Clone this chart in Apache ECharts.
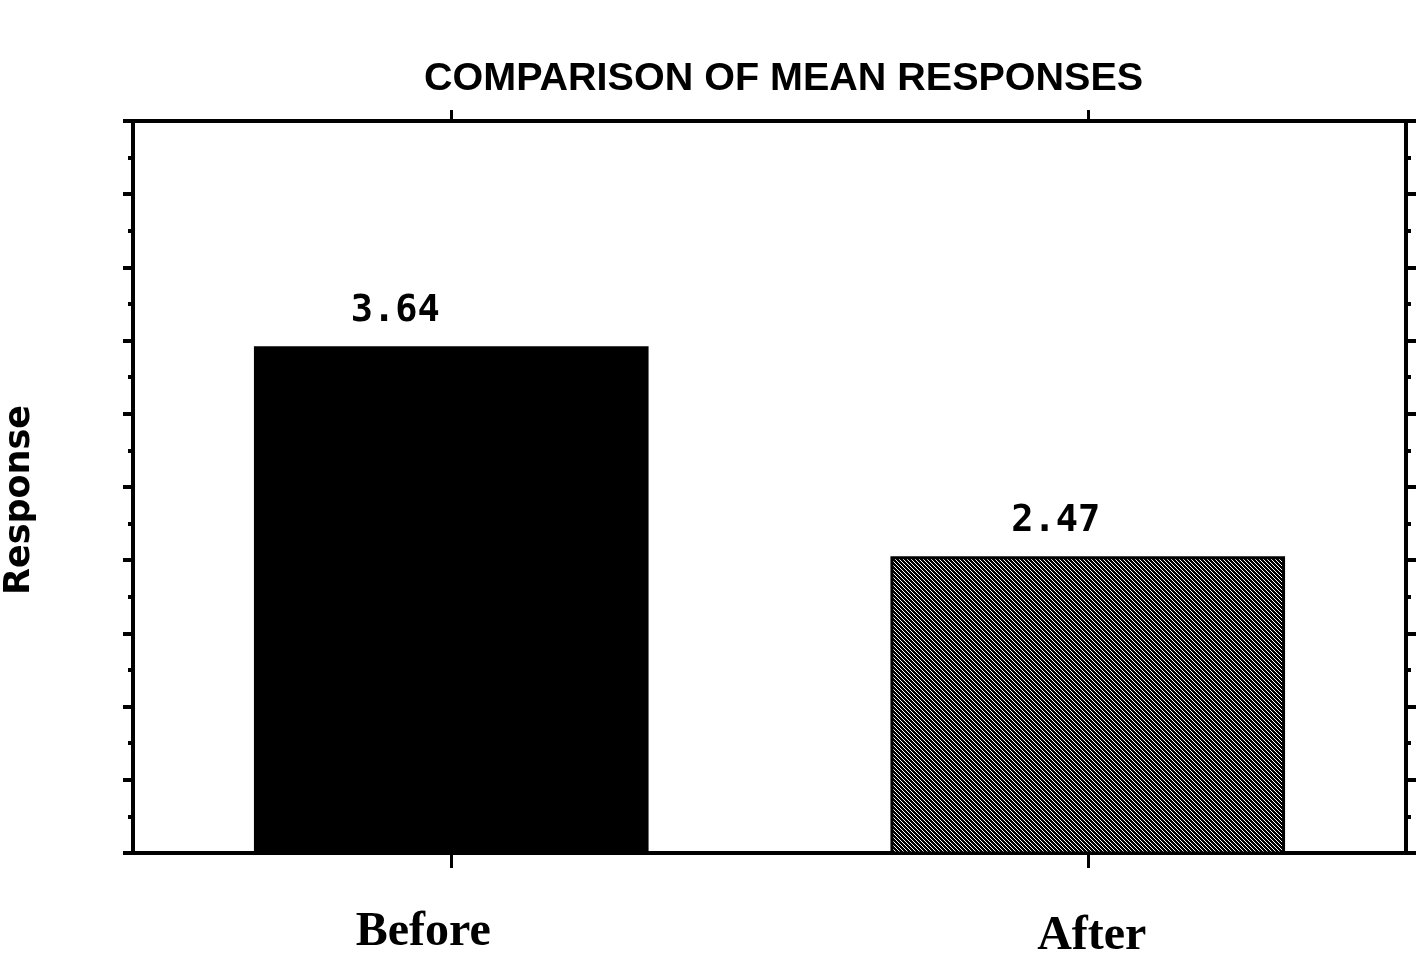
<!DOCTYPE html>
<html>
<head>
<meta charset="utf-8">
<title>Comparison of mean responses</title>
<script src="https://cdn.jsdelivr.net/npm/echarts@6/dist/echarts.min.js"></script>
<style>
  html, body { margin: 0; padding: 0; background: #fff; }
  #chart { width: 1418px; height: 953px; }
</style>
</head>
<body>
<div id="chart"></div>
<script>
// data
var categories = ["Before", "After"];
var meanValues = [3.64, 2.47];

// value labels sit a bit left of each bar centre in the original
var labelShift = [-56, -32];

// small diagonal hatch for the "After" bar
function makeHatch() {
  var c = document.createElement("canvas");
  c.width = 4;
  c.height = 4;
  var ctx = c.getContext("2d");
  ctx.fillStyle = "#000";
  ctx.fillRect(0, 0, 4, 4);
  ctx.fillStyle = "#fff";
  for (var i = 0; i < 4; i++) {
    ctx.fillRect(i, i, 1, 1);
  }
  return c;
}

var hatch = { image: makeHatch(), repeat: "repeat" };

var chart = echarts.init(document.getElementById("chart"));

var valueAxisBase = {
  type: "value",
  min: 0.816,
  max: 4.896,
  interval: 0.408,
  axisLabel: { show: false },
  splitLine: { show: false },
  axisLine: { show: true, lineStyle: { color: "#000", width: 4 } },
  axisTick: { show: true, inside: false, length: 10, lineStyle: { color: "#000", width: 4 } },
  minorTick: { show: true, splitNumber: 2, length: 5, lineStyle: { color: "#000", width: 4 } },
  minorSplitLine: { show: false },
};

chart.setOption({
  animation: false,
  backgroundColor: "#fff",
  title: {
    text: "COMPARISON OF MEAN RESPONSES",
    left: 419,
    top: 54,
    textStyle: {
      fontFamily: "Liberation Sans",
      fontWeight: "bold",
      fontSize: 39.5,
      color: "#000",
    },
  },
  grid: {
    left: 133,
    right: 12,
    top: 121,
    bottom: 100,
    outerBoundsMode: "none",
  },
  xAxis: [
    {
      type: "category",
      position: "bottom",
      data: categories,
      axisLine: { show: true, lineStyle: { color: "#000", width: 4 } },
      axisTick: { show: true, alignWithLabel: true, length: 15, lineStyle: { color: "#000", width: 3 } },
      axisLabel: {
        margin: 56,
        formatter: function (value, index) {
          return "{c" + index + "|" + value + "}";
        },
        rich: {
          c0: {
            fontFamily: "Liberation Serif",
            fontWeight: "bold",
            fontSize: 48,
            color: "#000",
            padding: [0, 56, 0, 0],
          },
          c1: {
            fontFamily: "Liberation Serif",
            fontWeight: "bold",
            fontSize: 48,
            color: "#000",
            padding: [4, 0, 0, 8],
          },
        },
      },
      splitLine: { show: false },
    },
    {
      type: "category",
      position: "top",
      data: categories,
      axisLine: { show: true, lineStyle: { color: "#000", width: 4 } },
      axisTick: { show: true, alignWithLabel: true, length: 11, lineStyle: { color: "#000", width: 3 } },
      axisLabel: { show: false },
      splitLine: { show: false },
    },
  ],
  yAxis: [
    Object.assign({}, valueAxisBase, {
      position: "left",
      name: "Response",
      nameLocation: "middle",
      nameRotate: 90,
      nameGap: 96,
      nameTextStyle: {
        fontFamily: "DejaVu Sans",
        fontWeight: "bold",
        fontSize: 35,
        color: "#000",
        padding: [0, 26, 0, 0],
      },
    }),
    Object.assign({}, valueAxisBase, {
      position: "right",
    }),
  ],
  series: [
    {
      type: "bar",
      barWidth: "62%",
      xAxisIndex: 0,
      yAxisIndex: 0,
      label: {
        show: true,
        position: "top",
        distance: 16,
        fontFamily: "DejaVu Sans Mono",
        fontWeight: "bold",
        fontSize: 37,
        color: "#000",
        formatter: function (p) {
          return p.value.toFixed(2);
        },
      },
      data: meanValues.map(function (v, i) {
        return {
          value: v,
          label: { offset: [labelShift[i], 0] },
          itemStyle: i === 0
            ? { color: "#000" }
            : { color: hatch, borderColor: "#000", borderWidth: 3 },
        };
      }),
    },
  ],
});

window.addEventListener("resize", function () {
  chart.resize();
});
</script>
</body>
</html>
